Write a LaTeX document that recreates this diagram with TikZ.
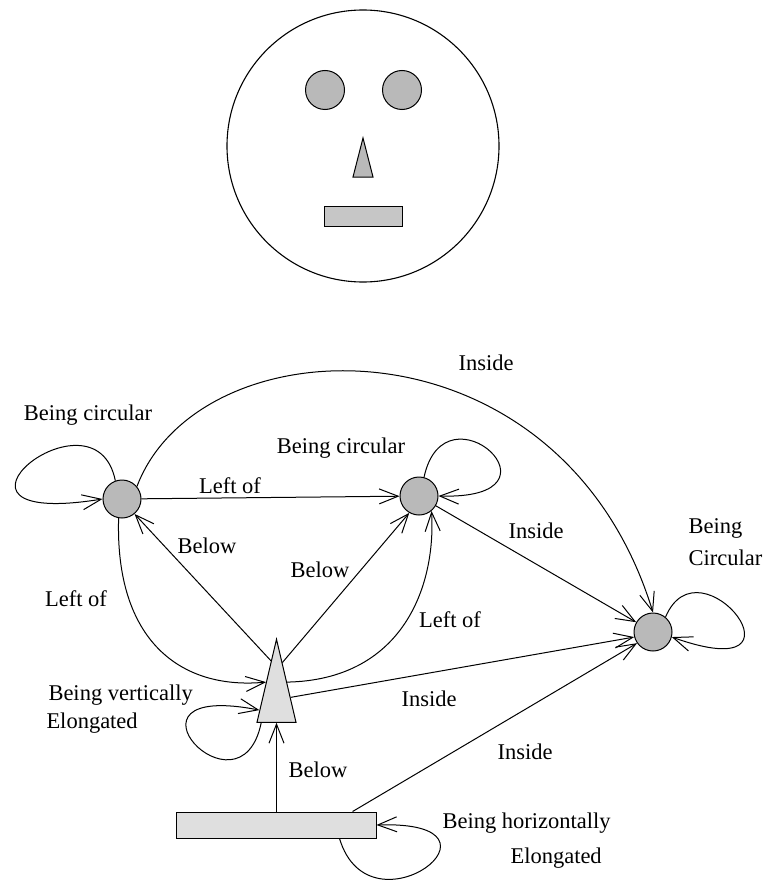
\documentclass[tikz,border=0pt]{standalone}
\usepackage{fontspec}
\setmainfont{Liberation Serif}
\usepackage{tikz}
\usetikzlibrary{positioning,shapes.geometric,arrows.meta,calc}

\tikzset{
  blob/.style={ellipse, draw, fill=gray!55, minimum width=38pt, minimum height=38pt, inner sep=0pt},
  rel/.style={-{Straight Barb[length=19pt,width=15pt]}},
  word/.style={anchor=base, inner sep=0pt},
  wordl/.style={anchor=base west, inner sep=0pt},
}

\begin{document}
\begin{tikzpicture}[x=1pt,y=-1pt,line width=1pt,font=\fontsize{22.5}{27}\selectfont]
\useasboundingbox (0,0) rectangle (764,880);
% the face
\draw[line width=1.1pt] (363,146) circle[radius=136pt];
\filldraw[fill=gray!55] (325,90) circle[radius=19.5pt];
\filldraw[fill=gray!55] (402,90) circle[radius=19.5pt];
\filldraw[fill=gray!55] (363,138) -- (373,177) -- (353,177) -- cycle;
\filldraw[fill=gray!45] (324,206) rectangle (402,226);

% the graph
\node[blob] (node_a) at (122,499) {};
\node[blob] (node_b) at (419,496) {};
\node[blob] (node_c) at (653,632) {};
\node[draw, fill=gray!25, isosceles triangle, isosceles triangle stretches, shape border rotate=90, minimum width=39pt, minimum height=83pt, inner sep=0pt, anchor=apex] (node_t) at (276.5,638) {};
\node[draw, fill=gray!25, minimum width=200pt, minimum height=26pt, inner sep=0pt] (node_r) at (276,825) {};

% points on the triangle sides
\coordinate (t_loop_out) at ($(node_t.left corner)!0.12!(node_t.right corner)$);
\coordinate (t_loop_in) at ($(node_t.left corner)!0.15!(node_t.apex)$);
\coordinate (t_left_in) at ($(node_t.left corner)!0.48!(node_t.apex)$);
\coordinate (t_below_a) at ($(node_t.left corner)!0.73!(node_t.apex)$);
\coordinate (t_below_b) at ($(node_t.right corner)!0.71!(node_t.apex)$);
\coordinate (t_left_out) at ($(node_t.right corner)!0.48!(node_t.apex)$);
\coordinate (t_inside) at ($(node_t.right corner)!0.3!(node_t.apex)$);

\draw[rel] (node_a.110) .. controls (95,380) and (-90,530) .. (node_a.180);
\draw[rel] (node_b.75) .. controls (445,380) and (575,500) .. (node_b.0);
\draw[rel] (node_c.50) .. controls (700,535) and (820,690) .. (node_c.-15);
\draw[rel] (t_loop_out) .. controls (240,825) and (105,680) .. (t_loop_in);
\draw[rel] (node_r.-12) .. controls (370,940) and (525,820) .. (node_r.east);

\draw[rel] (node_a.40) .. controls (200,320) and (560,310) .. (node_c.north);
\draw[rel] (node_a) -- (node_b);
\draw[rel] (node_b) -- (node_c);
\draw[rel] (t_below_a) -- (node_a.-50);
\draw[rel] (t_below_b) -- (node_b.240);
\draw[rel] (node_a.260) .. controls (115,640) and (180,690) .. (t_left_in);
\draw[rel] (t_left_out) .. controls (400,680) and (436,590) .. (node_b.-50);
\draw[rel] (t_inside) -- (node_c.195);
\draw[rel] (node_r.north -| node_t.apex) -- (node_t.south);
\draw[rel] (node_r.10) -- (node_c.215);

% the words
\node[word] (lab_inside_top) at (486,370) {Inside};
\node[word] (lab_circ_a) at (88,420) {Being circular};
\node[word] (lab_circ_b) at (341,453) {Being circular};
\node[word] (lab_left_ab) at (230,493) {Left of};
\node[word] (lab_below_ta) at (207,553) {Below};
\node[word] (lab_below_tb) at (320,577) {Below};
\node[word] (lab_inside_bc) at (536,538) {Inside};
\node[wordl] (lab_being_c) at (688,533) {Being};
\node[wordl] (lab_circ_c) at (688,565) {Circular};
\node[word] (lab_left_at) at (76,606) {Left of};
\node[word] (lab_left_tb) at (450,627) {Left of};
\node[wordl] (lab_vert_t) at (48,700) {Being vertically};
\node[wordl] (lab_elong_t) at (46,728) {Elongated};
\node[word] (lab_inside_tc) at (429,706) {Inside};
\node[word] (lab_inside_rc) at (525,759) {Inside};
\node[word] (lab_below_rt) at (318,777) {Below};
\node[wordl] (lab_hor_r) at (442,828) {Being horizontally};
\node[wordl] (lab_elong_r) at (510,863) {Elongated};
\end{tikzpicture}
\end{document}
